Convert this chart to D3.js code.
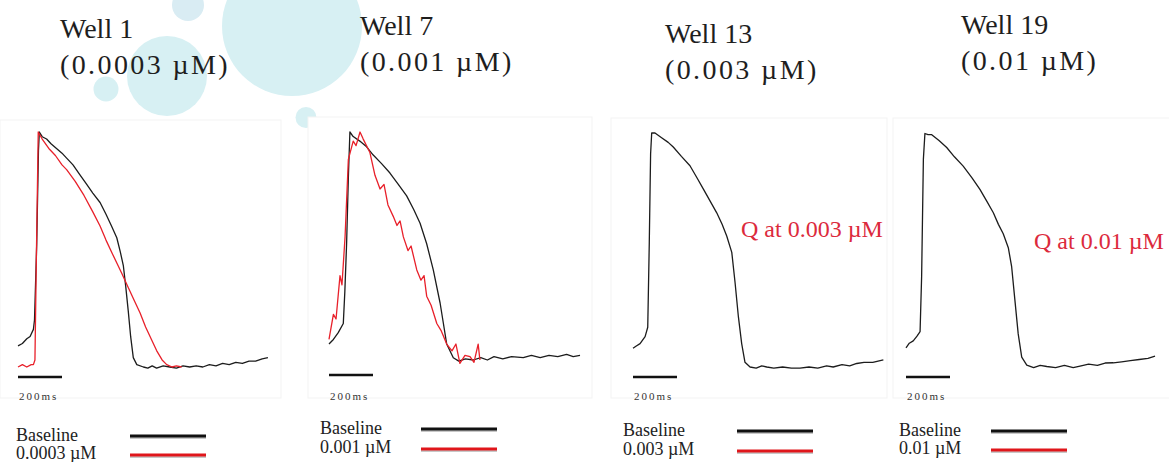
<!DOCTYPE html>
<html>
<head>
<meta charset="utf-8">
<script src="https://cdn.jsdelivr.net/npm/d3@7"></script>
<style>
  body { margin: 0; background: #fff; }
  svg { display: block; font-family: "Liberation Serif", "DejaVu Serif", serif; }
</style>
</head>
<body>
<div id="chart"></div>
<script>
// Titles and labels
var wells = ["Well 1", "Well 7", "Well 13", "Well 19"];
var doses = ["(0.0003 µM)", "(0.001 µM)", "(0.003 µM)", "(0.01 µM)"];
var legendDoses = ["0.0003 µM", "0.001 µM", "0.003 µM", "0.01 µM"];
var qLabels = [null, null, "Q at 0.003 µM", "Q at 0.01 µM"];
var legendNames = ["Baseline"];
var scaleBarMs = 200;
var scaleBarLabel = "200ms";

// Traces: [time ms, amplitude % of peak]
var baseline1 = [[0,9],[20,10],[40,12],[55,13],[70,16],[75,20],[85,52],[93,92],[97,100],[110,98],[130,97],[150,95],[175,93],[200,91],[220,89],[250,86],[280,82],[310,78],[340,74],[373,70],[400,65],[425,60],[449,55],[465,49],[479,43],[490,34],[501,24],[512,13],[524,4],[540,1],[570,0],[590,-0.5],[610,0.5],[630,-0.5],[660,0.5],[690,0],[720,-0.5],[750,0.5],[780,0],[810,0.5],[840,0],[870,1],[900,0.5],[930,1.5],[960,1],[990,2],[1020,1.5],[1050,2.5],[1080,2.5],[1110,3.5],[1136,4]];
var treated1 = [[0,0],[20,1],[40,0],[60,1],[70,1],[77,3],[84,50],[92,100],[110,97],[140,93],[170,90],[200,86],[221,84],[260,79],[300,73],[340,66],[373,60],[400,54],[430,48],[471,40],[500,34],[530,28],[555,23],[580,17],[605,12],[630,7],[655,3],[676,1],[700,0],[720,0.5],[744,0]];

var baseline7 = [[0,7],[20,9],[42,12],[65,16],[72,30],[80,51],[88,80],[95,100],[110,98],[140,96],[171,93.5],[200,90],[240,86],[277,82],[315,77],[353,72],[385,66],[414,60],[444,51],[474,39.5],[505,25],[520,16],[535,7],[565,1],[590,-0.5],[620,0.5],[656,0],[690,1],[720,0],[750,1.5],[790,0.5],[830,1.5],[883,1],[920,2],[960,1],[1000,2],[1040,1.5],[1080,2.5],[1110,1.5],[1141,2]];
var treated7 = [[0,9],[20,20],[32,18],[50,37],[59,33],[73,54],[88,88],[110,96],[123,94],[141,100],[155,97],[186,91],[209,81],[232,75],[250,77],[268,68],[292,63],[309,59],[323,61],[338,54],[359,48],[373,50],[399,39.5],[418,35],[432,37],[444,28],[464,24],[490,16],[509,13],[535,7],[559,4],[577,7],[595,-1.5],[618,2],[641,1.5],[659,-1],[678,7],[686,0]];

var baseline13 = [[0,8],[15,9],[32,10],[55,13],[67,17],[74,53],[80,91],[85,100],[100,100],[130,98],[160,96],[183,94],[220,90],[259,86],[290,81],[320,76],[350,71],[380,66],[405,61],[426,56],[449,49],[464,36],[479,21.5],[494,10],[509,2],[532,0],[560,-0.5],[585,0.5],[608,0],[640,-0.5],[680,0],[720,-0.5],[759,-0.5],[800,0],[840,-0.5],[880,0.5],[910,0],[950,1],[985,0.5],[1017,1.5],[1050,2],[1090,2],[1138,3]];

var baseline19 = [[0,8],[15,10],[33,11],[50,13],[64,15],[71,38.5],[79,89],[86,100],[100,99.5],[117,99.5],[150,97],[185,94],[220,90],[260,86],[300,81],[336,76],[367,71],[397,66],[420,61],[442,57],[465,51],[480,43],[495,28.5],[510,14],[526,4],[549,0.6],[580,-0.5],[610,0.5],[640,0],[680,-0.5],[720,0.5],[760,-0.5],[791,0.2],[830,1],[870,0.5],[905,1.5],[942,1.6],[980,2],[1020,2.5],[1060,3],[1100,3.5],[1132,4.5]];

var baselineTraces = [baseline1, baseline7, baseline13, baseline19];
var treatedTraces = [treated1, treated7, null, null];

// Layout of each panel (pixels)
var panels = [
  {box: [0, 120, 281, 278], x0: 18, yBase: 367, yPeak: 132, barY: 377,
   title: [60, 38, 74], q: null, leg: {tx: 16, lx: 130, y1: 436, y2: 455}},
  {box: [308, 117, 284, 281], x0: 329, yBase: 360, yPeak: 132, barY: 375,
   title: [360, 35, 71], q: null, leg: {tx: 320, lx: 421, y1: 429, y2: 449}},
  {box: [611, 118, 276, 280], x0: 633, yBase: 367, yPeak: 133, barY: 377,
   title: [665, 43, 79], q: [741, 237], leg: {tx: 623, lx: 737, y1: 431, y2: 451}},
  {box: [893, 118, 280, 280], x0: 906, yBase: 366.5, yPeak: 133.5, barY: 377,
   title: [961, 34, 70], q: [1034, 249], leg: {tx: 899, lx: 991, y1: 431, y2: 450}}
];

var width = 1169, height = 462;
var pxPerMs = 0.22;

var svg = d3.select("#chart").append("svg")
    .attr("width", width)
    .attr("height", height);

// Decorative bubbles
var bubbles = [[292, 26, 70], [167, 76, 40], [188, 5, 16], [106, 89, 12.5], [306, 117.5, 10.5]];
svg.selectAll(".bubble")
    .data(bubbles)
  .enter().append("circle")
    .attr("class", "bubble")
    .attr("cx", function(d) { return d[0]; })
    .attr("cy", function(d) { return d[1]; })
    .attr("r", function(d) { return d[2]; })
    .attr("fill", function(d, i) { return i == 2 ? "#d9ecf3" : "#d7f0f3"; });

panels.forEach(function(p, i) {
  var g = svg.append("g");

  g.append("rect")
      .attr("x", p.box[0]).attr("y", p.box[1])
      .attr("width", p.box[2]).attr("height", p.box[3])
      .attr("fill", "#fff")
      .attr("stroke", "#f3f3f3");

  // Titles
  var t = g.append("text")
      .attr("fill", "#1e1e1e")
      .style("font-size", "28px");
  t.append("tspan").attr("x", p.title[0]).attr("y", p.title[1]).text(wells[i]);
  t.append("tspan").attr("x", p.title[0]).attr("y", p.title[2])
      .style("letter-spacing", "2.4px").text(doses[i]);

  var x = d3.scaleLinear()
      .domain([0, 1200])
      .range([p.x0, p.x0 + 1200 * pxPerMs]);
  var y = d3.scaleLinear()
      .domain([0, 100])
      .range([p.yBase, p.yPeak]);

  var line = d3.line()
      .x(function(d) { return x(d[0]); })
      .y(function(d) { return y(d[1]); });

  g.append("path")
      .datum(baselineTraces[i])
      .attr("d", line)
      .attr("fill", "none")
      .attr("stroke", "#1c1c1c")
      .attr("stroke-width", 1.3)
      .attr("stroke-linejoin", "round");

  if (treatedTraces[i]) {
    g.append("path")
        .datum(treatedTraces[i])
        .attr("d", line)
        .attr("fill", "none")
        .attr("stroke", "#e8202a")
        .attr("stroke-width", 1.3)
        .attr("stroke-linejoin", "round");
  }

  // Scale bar
  g.append("line")
      .attr("x1", x(0)).attr("x2", x(scaleBarMs))
      .attr("y1", p.barY).attr("y2", p.barY)
      .attr("stroke", "#111")
      .attr("stroke-width", 2.5);
  g.append("text")
      .attr("x", x(0) + 1)
      .attr("y", 400)
      .attr("fill", "#333")
      .style("font-size", "11px")
      .style("letter-spacing", "2px")
      .text(scaleBarLabel);

  if (qLabels[i]) {
    g.append("text")
        .attr("x", p.q[0]).attr("y", p.q[1])
        .attr("fill", "#dc2a3c")
        .style("font-size", "24px")
        .text(qLabels[i]);
  }

  // Legend
  var lg = g.append("g");
  lg.append("text").attr("x", p.leg.tx).attr("y", p.leg.y1 + 5)
      .attr("fill", "#222").style("font-size", "18px").text(legendNames[0]);
  lg.append("text").attr("x", p.leg.tx).attr("y", p.leg.y2 + 4)
      .attr("fill", "#222").style("font-size", "18px").text(legendDoses[i]);

  [[p.leg.y1, "#111"], [p.leg.y2, "#e0161b"]].forEach(function(d) {
    lg.append("line")
        .attr("x1", p.leg.lx).attr("x2", p.leg.lx + 76)
        .attr("y1", d[0] + 2).attr("y2", d[0] + 2)
        .attr("stroke", "#c8c8c8").attr("stroke-width", 2);
    lg.append("line")
        .attr("x1", p.leg.lx).attr("x2", p.leg.lx + 76)
        .attr("y1", d[0]).attr("y2", d[0])
        .attr("stroke", d[1]).attr("stroke-width", 3);
  });
});
</script>
</body>
</html>
